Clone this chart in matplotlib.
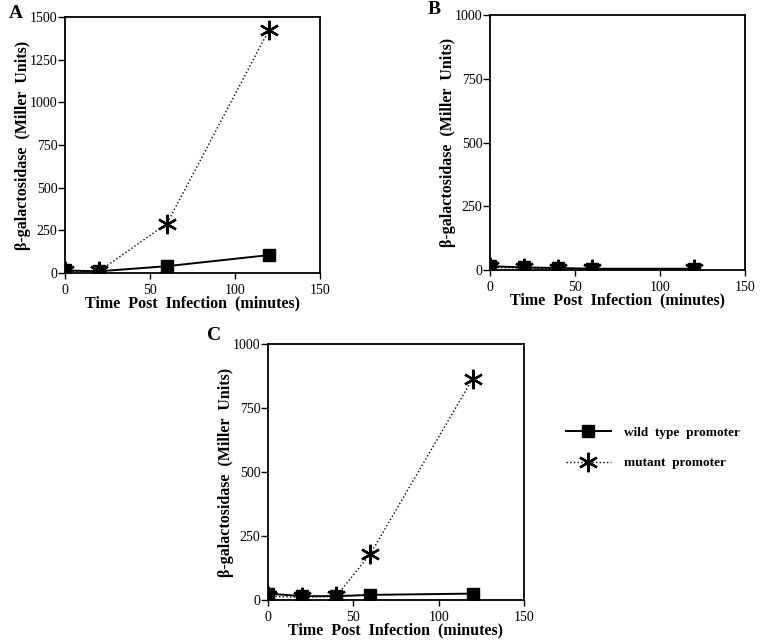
import matplotlib
matplotlib.use("Agg")
import matplotlib.pyplot as plt
from matplotlib.lines import Line2D

plt.rcParams['font.family'] = ['Liberation Serif', 'DejaVu Serif']

# Panel A
a_time = [0, 20, 60, 120]
a_wild = [15, 10, 40, 105]
a_mut = [10, 10, 290, 1425]
# Panel B
b_time = [0, 20, 40, 60, 120]
b_wild = [15, 10, 8, 5, 5]
b_mut = [10, 8, 5, 3, 3]
# Panel C
c_time = [0, 20, 40, 60, 120]
c_wild = [25, 15, 15, 20, 25]
c_mut = [15, 10, 15, 180, 865]

x_ticks = [0, 50, 100, 150]
a_yticks = [0, 250, 500, 750, 1000, 1250, 1500]
bc_yticks = [0, 250, 500, 750, 1000]

xlabel = "Time  Post  Infection  (minutes)"
ylabel = "β-galactosidase  (Miller  Units)"

fig = plt.figure(figsize=(7.61, 6.44), dpi=100)

ast = (6, 2, 0)

def panel(rect, t, wild, mut, yticks, letter, letter_pos):
    ax = fig.add_axes(rect)
    ax.plot(t, wild, '-', color='black', lw=1.4, marker='s', ms=8, zorder=3)
    ax.plot(t, mut, ':', color='black', lw=1.0, marker=ast, ms=14, mew=1.7, zorder=4)
    ax.set_xlim(0, 150)
    ax.set_ylim(0, yticks[-1])
    ax.set_xticks(x_ticks)
    ax.set_yticks(yticks)
    ax.tick_params(axis='y', direction='out', length=5, width=1, labelsize=10, pad=0.5)
    ax.tick_params(axis='x', direction='out', length=4, width=1, labelsize=10, pad=4)
    for s in ax.spines.values():
        s.set_linewidth(1.3)
    ax.set_xlabel(xlabel, fontsize=11.5, fontweight='bold', labelpad=-1)
    ax.set_ylabel(ylabel, fontsize=11.5, fontweight='bold', labelpad=-1)
    fig.text(letter_pos[0], letter_pos[1], letter, fontsize=14, fontweight='bold',
             ha='left', va='center')
    for lab in ax.get_xticklabels() + ax.get_yticklabels():
        lab.set_clip_on(False)
    return ax

W, H = 761, 644
def rect(l, t, r, b):
    return [l / W, 1 - b / H, (r - l) / W, (b - t) / H]

panel(rect(65, 17, 320, 273), a_time, a_wild, a_mut, a_yticks, 'A', (9 / W, 1 - 14 / H))
panel(rect(490, 15, 745, 270), b_time, b_wild, b_mut, bc_yticks, 'B', (428 / W, 1 - 10 / H))
panel(rect(268, 344, 524, 600), c_time, c_wild, c_mut, bc_yticks, 'C', (207 / W, 1 - 336 / H))

handles = [
    Line2D([], [], color='black', lw=1.4, marker='s', ms=8),
    Line2D([], [], color='black', lw=1.0, ls=':', marker=ast, ms=14, mew=1.7),
]
labels = ["wild  type  promoter", "mutant  promoter"]
fig.legend(handles, labels, loc='upper left', bbox_to_anchor=(554 / W, 1 - 415 / H),
           frameon=False, prop={'weight': 'bold', 'size': 9.5}, handlelength=3.4,
           labelspacing=1.35, handletextpad=1.0)

fig.savefig("out.png", dpi=100)
